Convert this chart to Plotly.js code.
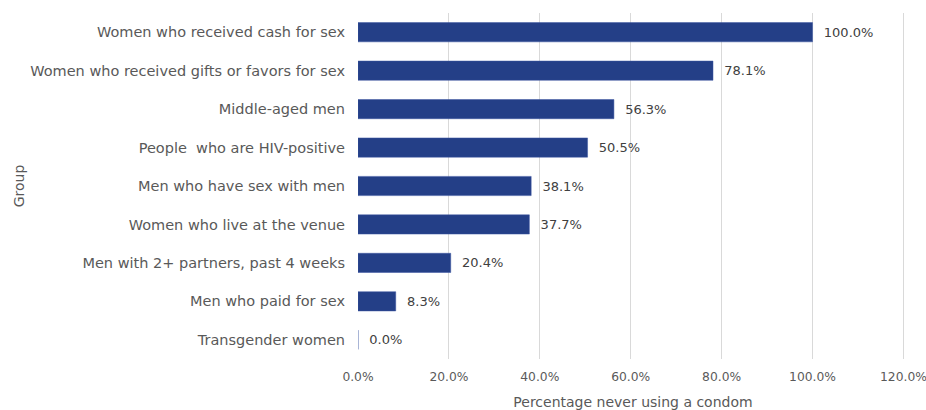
<!DOCTYPE html>
<html><head><meta charset="utf-8">
<script src="https://cdn.plot.ly/plotly-3.0.1.min.js"></script>
<style>html,body{margin:0;padding:0;background:#fff;}#chart{width:926px;height:410px;}</style>
</head><body><div id="chart"></div>
<script>
const groups = [
  "Women who received cash for sex",
  "Women who received gifts or favors for sex",
  "Middle-aged men",
  "People  who are HIV-positive",
  "Men who have sex with men",
  "Women who live at the venue",
  "Men with 2+ partners, past 4 weeks",
  "Men who paid for sex",
  "Transgender women"
];
const values = [100.0, 78.1, 56.3, 50.5, 38.1, 37.7, 20.4, 8.3, 0.0];
const tickVals = [0, 20, 40, 60, 80, 100, 120];
const tickText = ["0.0%", "20.0%", "40.0%", "60.0%", "80.0%", "100.0%", "120.0%"];

const font = "DejaVu Sans, sans-serif";
const trace = {
  type: "bar", orientation: "h",
  x: values, y: groups,
  marker: {color: "#243F87", line: {color: "#3A55A0", width: 0.5}},
  width: 0.5,
  text: values.map(v => "\u00A0\u00A0" + v.toFixed(1) + "%"),
  textposition: "outside",
  textfont: {family: font, size: 13, color: "#404040"},
  cliponaxis: false,
  hoverinfo: "none"
};
const layout = {
  width: 926, height: 410,
  margin: {l: 358, r: 18, t: 13, b: 51},
  paper_bgcolor: "#fff", plot_bgcolor: "#fff",
  showlegend: false,
  font: {family: font, color: "#595959", size: 13},
  xaxis: {
    range: [0, 121], tickvals: tickVals, ticktext: tickText,
    showgrid: true, gridcolor: "#D9D9D9", gridwidth: 1,
    zeroline: false, showline: false, ticks: "",
    ticklabelstandoff: 9, ticklabeloverflow: "allow",
    tickfont: {family: font, size: 12.3, color: "#595959"},
    title: {text: "Percentage never using a condom", font: {family: font, size: 14, color: "#595959"}, standoff: 13}
  },
  yaxis: {
    autorange: "reversed", type: "category",
    showgrid: false, zeroline: false, showline: false, ticks: "",
    ticklabelstandoff: 12,
    tickfont: {family: font, size: 14.5, color: "#595959"},
    title: {text: "Group", font: {family: font, size: 14, color: "#595959"}, standoff: 2}
  },
  bargap: 0.5
};
Plotly.newPlot("chart", [trace], layout, {displayModeBar: false, staticPlot: true});
</script></body></html>
